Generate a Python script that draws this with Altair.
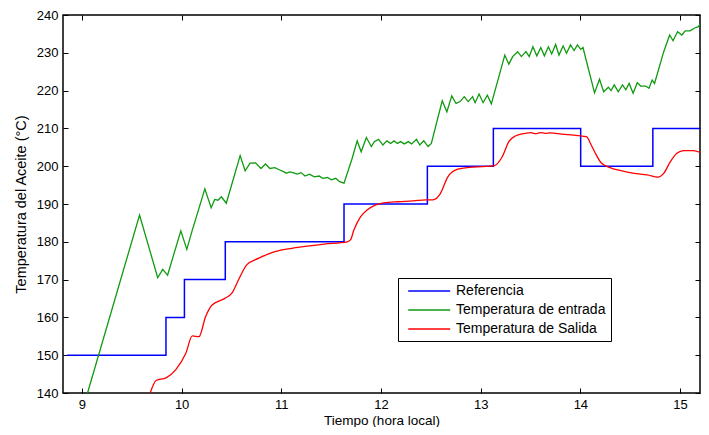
import altair as alt
import pandas as pd

# ---------------- data ----------------
series_names = ["Referencia", "Temperatura de entrada", "Temperatura de Salida"]
series_colors = ["#0000ff", "#109a10", "#ff0000"]

x_ticks = [9, 10, 11, 12, 13, 14, 15]
y_ticks = [140, 150, 160, 170, 180, 190, 200, 210, 220, 230, 240]

ref_hora = [8.851, 9.843, 10.028, 10.438, 11.629, 12.465, 13.127, 14.003, 14.727, 15.23]
ref_temp = [150, 160, 170, 180, 190, 200, 210, 200, 210, 210]

ent_hora = [9.056, 9.578, 9.760, 9.810, 9.859, 9.992, 10.052, 10.107, 10.141, 10.233,
            10.296, 10.332, 10.365, 10.399, 10.448, 10.587, 10.637, 10.687, 10.742, 10.796,
            10.841, 10.885, 10.935, 10.984, 11.027, 11.050, 11.083, 11.116, 11.159, 11.198,
            11.238, 11.282, 11.331, 11.381, 11.414, 11.463, 11.503, 11.546, 11.585, 11.629,
            11.711, 11.761, 11.801, 11.853, 11.903, 11.933, 11.976, 12.019, 12.059, 12.098,
            12.131, 12.165, 12.197, 12.234, 12.274, 12.307, 12.356, 12.389, 12.429, 12.472,
            12.505, 12.614, 12.661, 12.710, 12.753, 12.793, 12.835, 12.875, 12.919, 12.944,
            12.984, 13.024, 13.067, 13.107, 13.242, 13.282, 13.321, 13.371, 13.408, 13.454,
            13.487, 13.524, 13.563, 13.603, 13.639, 13.679, 13.712, 13.752, 13.785, 13.827,
            13.861, 13.901, 13.937, 13.970, 14.003, 14.026, 14.142, 14.192, 14.234, 14.281,
            14.308, 14.340, 14.380, 14.423, 14.456, 14.489, 14.529, 14.571, 14.605, 14.655,
            14.688, 14.720, 14.744, 14.836, 14.896, 14.929, 14.975, 15.018, 15.052, 15.101,
            15.141, 15.184, 15.223]
ent_temp = [140.0, 187.1, 170.5, 172.7, 171.2, 182.9, 178.0, 183.1, 186.0, 194.0,
            189.0, 191.2, 191.0, 191.9, 190.2, 202.8, 198.8, 200.8, 200.9, 199.4,
            200.6, 199.4, 199.6, 199.0, 198.5, 198.1, 198.5, 198.3, 197.9, 198.3,
            197.4, 197.9, 197.2, 197.4, 196.8, 197.0, 196.4, 196.8, 195.9, 195.5,
            202.1, 206.7, 203.8, 207.6, 205.2, 206.5, 207.1, 205.6, 206.7, 206.0,
            206.7, 206.0, 206.5, 205.9, 206.5, 205.9, 207.1, 205.6, 206.7, 205.2,
            206.0, 217.3, 214.4, 218.6, 216.6, 217.1, 218.4, 217.1, 218.4, 216.8,
            219.1, 216.8, 218.8, 216.5, 229.4, 227.0, 229.0, 230.3, 229.0, 230.3,
            229.0, 231.6, 229.2, 231.4, 229.2, 231.6, 229.7, 232.2, 229.4, 231.8,
            229.9, 232.1, 230.6, 232.1, 230.9, 231.4, 219.4, 223.0, 219.7, 220.9,
            220.0, 221.5, 219.7, 221.5, 220.2, 221.9, 219.3, 222.1, 221.2, 221.2,
            220.6, 222.8, 221.9, 230.3, 234.7, 233.2, 235.6, 234.7, 235.8, 235.8,
            236.5, 236.9, 238.5]

sal_hora = [9.685, 9.744, 9.843, 9.942, 10.042, 10.107, 10.174, 10.240, 10.306, 10.438,
            10.504, 10.570, 10.653, 10.769, 10.935, 11.166, 11.431, 11.662, 11.694, 11.728,
            11.794, 11.860, 11.942, 12.026, 12.175, 12.323, 12.448, 12.522, 12.587, 12.671,
            12.770, 12.885, 13.018, 13.133, 13.216, 13.282, 13.348, 13.448, 13.500, 13.550,
            13.600, 13.646, 13.700, 13.812, 13.976, 14.060, 14.109, 14.159, 14.208, 14.291,
            14.407, 14.539, 14.671, 14.777, 14.836, 14.903, 14.968, 15.035, 15.134, 15.223]
sal_temp = [140.0, 143.3, 144.0, 146.2, 150.5, 155.1, 154.9, 160.2, 163.3, 165.1,
            166.4, 169.9, 173.9, 175.6, 177.4, 178.5, 179.4, 180.0, 180.5, 183.1,
            186.6, 188.4, 189.7, 190.3, 190.6, 190.8, 191.1, 191.1, 192.4, 197.2,
            199.2, 199.7, 199.9, 200.1, 202.5, 206.5, 208.0, 208.7, 208.9, 208.6,
            208.9, 208.7, 208.8, 208.5, 208.1, 207.8, 205.6, 203.0, 200.9, 199.7,
            198.8, 198.1, 197.7, 197.1, 198.1, 201.2, 203.4, 204.1, 204.1, 203.4]

# ---------------- tables ----------------
df_ref = pd.DataFrame({"hora": ref_hora, "temp": ref_temp, "serie": series_names[0]})
df_ent = pd.DataFrame({"hora": ent_hora, "temp": ent_temp, "serie": series_names[1]})
df_sal = pd.DataFrame({"hora": sal_hora, "temp": sal_temp, "serie": series_names[2]})

FONT = "Liberation Sans"

x_scale = alt.Scale(domain=[8.81, 15.2], nice=False, zero=False)
y_scale = alt.Scale(domain=[140, 240], nice=False, zero=False)

color = alt.Color(
    "serie:N",
    scale=alt.Scale(domain=series_names, range=series_colors),
    legend=alt.Legend(
        title=None,
        orient="none",
        legendX=335,
        legendY=263,
        direction="vertical",
        fillColor="white",
        strokeColor="black",
        padding=5,
        symbolType="M-0.4,0H5.6",
        symbolSize=196,
        symbolStrokeWidth=1.5,
        labelOffset=37,
        labelFont=FONT,
        labelFontSize=14,
        labelColor="black",
        rowPadding=4,
    ),
)

tick_common = dict(
    offset=-5,
    tickSize=5,
    domain=False,
    grid=False,
    tickColor="black",
    tickWidth=1,
)

x_bottom = alt.Axis(
    orient="bottom", values=x_ticks, format="d", labelFont=FONT, labelFontSize=13,
    labelColor="black", labelPadding=5, title="Tiempo (hora local)", titleFont=FONT,
    titleFontSize=13.5, titleFontWeight="normal", titleColor="black", titlePadding=2,
    **tick_common,
)
y_left = alt.Axis(
    orient="left", values=y_ticks, format="d", labelFont=FONT, labelFontSize=13,
    labelColor="black", labelPadding=5, title="Temperatura del Aceite (°C)", titleFont=FONT,
    titleFontSize=14.5, titleFontWeight="normal", titleColor="black", titlePadding=8,
    **tick_common,
)
x_top = alt.Axis(orient="top", values=x_ticks, labels=False, title=None, **tick_common)
y_right = alt.Axis(orient="right", values=y_ticks, labels=False, title=None, **tick_common)

ref_line = alt.Chart(df_ref).mark_line(
    interpolate="step-after", strokeWidth=1.5, clip=True
).encode(
    x=alt.X("hora:Q", scale=x_scale, axis=x_bottom),
    y=alt.Y("temp:Q", scale=y_scale, axis=y_left),
    color=color,
)

ent_line = alt.Chart(df_ent).mark_line(strokeWidth=1.3, clip=True).encode(
    x=alt.X("hora:Q", scale=x_scale, axis=x_top),
    y=alt.Y("temp:Q", scale=y_scale, axis=y_right),
    color=color,
)

sal_line = alt.Chart(df_sal).mark_line(
    interpolate="monotone", strokeWidth=1.3, clip=True
).encode(
    x=alt.X("hora:Q", scale=x_scale, axis=None),
    y=alt.Y("temp:Q", scale=y_scale, axis=None),
    color=color,
)

chart = (
    alt.layer(ref_line, ent_line, sal_line)
    .resolve_axis(x="independent", y="independent")
    .properties(
        width=637,
        height=378,
        autosize=alt.AutoSizeParams(type="none"),
        padding={"left": 55, "top": 7, "right": 1, "bottom": 34},
        background="white",
    )
    .configure_view(stroke="black", strokeWidth=1.5)
)

chart.save("out.html", embed_options={"renderer": "svg", "actions": False})
